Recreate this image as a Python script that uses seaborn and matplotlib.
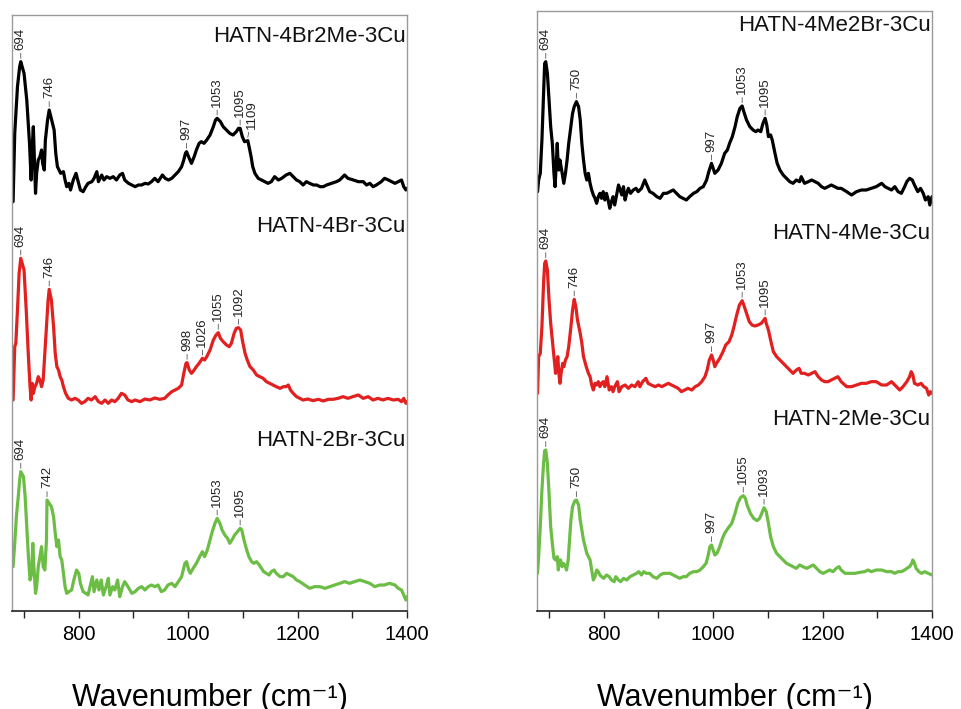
import numpy as np
import matplotlib
matplotlib.use("Agg")
import matplotlib.pyplot as plt
import seaborn as sns

# espectros: (numero de onda cm-1, intensidade u.a.)
hatn_4br2me = [(680, -55), (683, 150), (688, 290), (692, 350), (694, 365), (700, 330), (705, 250), (710, 120),
               (713, 10), (715, 110), (717, 170), (719, 70), (721, -30), (723, 30), (726, 70), (729, 80),
               (732, 100), (734, 60), (737, 40), (739, 130), (743, 190), (746, 220), (749, 200), (752, 180),
               (755, 160), (758, 90), (761, 50), (764, 40), (767, 30), (772, 35), (775, 10), (778, -10),
               (782, 0), (785, -20), (790, 10), (795, 30), (799, 5), (803, -20), (808, -25), (813, -10),
               (817, 0), (824, 5), (828, 15), (833, 35), (836, 5), (842, 25), (846, 10), (851, 20),
               (857, 15), (863, 20), (869, 10), (875, 25), (880, 30), (884, 10), (891, 0), (897, -5),
               (903, -10), (909, -5), (915, -5), (921, 0), (927, -2), (933, 5), (939, 15), (945, 5),
               (953, 25), (958, 15), (964, 10), (970, 15), (976, 25), (982, 35), (988, 50), (992, 70),
               (995, 90), (997, 95), (1002, 75), (1006, 60), (1011, 80), (1015, 100), (1020, 120), (1024, 125),
               (1029, 120), (1034, 130), (1040, 145), (1046, 170), (1050, 190), (1053, 195), (1059, 185), (1064, 170),
               (1070, 160), (1076, 150), (1082, 145), (1088, 155), (1092, 165), (1095, 165), (1099, 140), (1103, 125),
               (1109, 128), (1112, 105), (1115, 80), (1118, 50), (1122, 30), (1128, 15), (1134, 10), (1140, 5),
               (1146, 0), (1152, 5), (1158, 20), (1165, 10), (1171, 15), (1179, 25), (1186, 30), (1192, 20),
               (1198, 10), (1204, 5), (1210, -5), (1216, 5), (1222, 0), (1229, -5), (1235, -5), (1241, -10),
               (1247, -10), (1253, -5), (1262, 0), (1271, 5), (1277, 10), (1286, 25), (1292, 15), (1302, 10),
               (1311, 5), (1320, 5), (1326, -5), (1332, 0), (1338, -10), (1344, -5), (1353, 5), (1359, 15),
               (1366, 10), (1372, 5), (1378, 0), (1384, 5), (1390, 10), (1394, -10), (1398, -20), (1400, -15)]

hatn_4br = [(680, 0), (683, 160), (685, 170), (688, 270), (691, 380), (694, 425), (700, 390), (704, 270),
            (708, 130), (711, 40), (713, 0), (715, 50), (717, 20), (720, 40), (723, 50), (726, 70),
            (729, 60), (732, 40), (735, 60), (738, 140), (741, 220), (744, 300), (746, 332), (750, 300),
            (754, 220), (757, 140), (760, 100), (763, 90), (766, 70), (769, 60), (772, 40), (776, 20),
            (781, 5), (787, 0), (793, 5), (799, 0), (805, -10), (811, -5), (817, 5), (823, 0),
            (830, 10), (836, -5), (842, -10), (848, 0), (854, -10), (860, 0), (866, -5), (872, 5),
            (878, 20), (884, 15), (890, 0), (897, -5), (903, 0), (912, -5), (921, 3), (930, 0),
            (939, 6), (948, 2), (957, 5), (963, 15), (970, 25), (976, 30), (982, 35), (988, 45),
            (992, 80), (996, 110), (998, 112), (1002, 90), (1006, 80), (1011, 90), (1015, 100), (1020, 110),
            (1026, 125), (1030, 120), (1034, 130), (1040, 150), (1046, 180), (1051, 195), (1055, 202), (1059, 185),
            (1064, 175), (1070, 165), (1075, 160), (1079, 170), (1084, 200), (1088, 215), (1092, 217), (1096, 210),
            (1099, 180), (1104, 140), (1108, 120), (1113, 100), (1119, 90), (1125, 75), (1131, 70), (1137, 65),
            (1143, 55), (1149, 50), (1155, 45), (1161, 40), (1168, 35), (1174, 40), (1179, 40), (1183, 45),
            (1187, 30), (1192, 20), (1198, 10), (1204, 5), (1210, 0), (1219, 3), (1228, -2), (1238, 2),
            (1247, -3), (1256, 2), (1265, 2), (1274, 5), (1283, 10), (1292, 5), (1301, 10), (1311, 15),
            (1320, 5), (1329, 10), (1338, 0), (1347, 5), (1356, 0), (1365, 5), (1375, 0), (1384, 2),
            (1390, -5), (1394, 5), (1398, -10), (1400, -5)]

hatn_2br = [(680, 70), (683, 140), (686, 220), (690, 290), (692, 330), (694, 355), (699, 340), (702, 280),
            (705, 190), (708, 100), (711, 30), (714, 50), (716, 140), (718, 70), (721, -10), (723, 10),
            (726, 70), (729, 100), (732, 130), (735, 70), (738, 60), (741, 150), (742, 270), (746, 260),
            (750, 250), (754, 220), (757, 170), (760, 130), (763, 150), (766, 100), (769, 90), (772, 50),
            (775, 10), (778, -10), (782, -5), (787, 0), (791, 30), (796, 60), (800, 50), (803, 20),
            (808, -5), (813, -10), (817, -15), (822, 20), (825, 40), (828, -5), (833, 30), (837, 0),
            (841, 30), (845, -15), (850, 10), (854, 35), (857, -15), (862, 10), (866, 0), (871, 30),
            (875, -20), (880, 10), (884, 25), (890, 10), (897, -10), (903, -5), (909, 5), (915, 10),
            (921, 0), (927, 10), (933, 15), (939, 10), (945, 15), (951, -5), (957, 0), (963, 15),
            (970, 20), (976, 10), (982, 25), (988, 40), (994, 80), (997, 85), (1001, 60), (1004, 50),
            (1009, 65), (1015, 80), (1021, 100), (1026, 115), (1030, 100), (1035, 120), (1040, 150), (1044, 175),
            (1049, 200), (1053, 215), (1058, 200), (1062, 180), (1067, 165), (1072, 155), (1076, 140), (1080, 150),
            (1085, 165), (1090, 175), (1095, 185), (1098, 180), (1102, 150), (1107, 120), (1111, 100), (1116, 85),
            (1120, 80), (1125, 85), (1130, 75), (1134, 65), (1138, 55), (1143, 50), (1148, 45), (1152, 55),
            (1157, 60), (1161, 50), (1168, 40), (1174, 40), (1180, 50), (1186, 45), (1192, 40), (1198, 30),
            (1204, 25), (1213, 15), (1222, 5), (1231, 10), (1241, 10), (1250, 5), (1259, 10), (1268, 15),
            (1277, 20), (1286, 25), (1295, 20), (1304, 25), (1314, 30), (1323, 25), (1332, 20), (1341, 10),
            (1350, 15), (1359, 15), (1368, 20), (1378, 15), (1384, 5), (1390, 0), (1394, -15), (1398, -30),
            (1400, -20)]

hatn_4me2br = [(679, 5), (681, 40), (684, 60), (687, 160), (690, 300), (692, 390), (694, 395), (697, 360),
               (700, 280), (703, 200), (706, 150), (709, 60), (711, 20), (713, 80), (715, 150), (716, 110),
               (718, 70), (720, 100), (722, 80), (724, 60), (727, 30), (730, 60), (733, 100), (736, 150),
               (740, 200), (743, 240), (746, 260), (750, 275), (754, 260), (757, 220), (760, 150), (763, 100),
               (766, 60), (769, 40), (772, 60), (775, 30), (778, 10), (781, -5), (784, -15), (787, -30),
               (790, -10), (793, 0), (796, -15), (799, 5), (802, -20), (805, 0), (808, -20), (811, -45),
               (814, -25), (817, -10), (820, -35), (824, 0), (827, 25), (830, 10), (833, -5), (836, 20),
               (839, -20), (842, 0), (845, 15), (849, 0), (854, 10), (859, 15), (863, 5), (869, 15),
               (875, 40), (880, 20), (884, 5), (890, 0), (897, -10), (903, -15), (909, 0), (915, 0),
               (921, 5), (927, 10), (933, 0), (939, -10), (945, -15), (951, -20), (957, -10), (964, 0),
               (970, 5), (976, 15), (982, 20), (988, 40), (992, 65), (997, 90), (1000, 75), (1003, 60),
               (1009, 70), (1015, 90), (1021, 120), (1026, 130), (1030, 150), (1035, 170), (1040, 200), (1044, 230),
               (1049, 255), (1053, 262), (1056, 245), (1061, 220), (1067, 200), (1073, 190), (1078, 185), (1082, 190),
               (1087, 185), (1091, 210), (1095, 225), (1098, 205), (1101, 170), (1105, 175), (1108, 160), (1113, 120),
               (1117, 90), (1122, 70), (1128, 55), (1134, 45), (1140, 35), (1146, 30), (1152, 40), (1158, 35),
               (1161, 50), (1167, 30), (1174, 35), (1180, 40), (1186, 35), (1192, 30), (1198, 20), (1204, 15),
               (1210, 20), (1216, 25), (1222, 20), (1228, 15), (1234, 15), (1244, 5), (1253, -5), (1262, 5),
               (1271, 10), (1280, 10), (1289, 15), (1298, 20), (1308, 30), (1314, 20), (1320, 15), (1326, 10),
               (1332, 20), (1338, 5), (1344, 0), (1350, 20), (1354, 35), (1359, 45), (1364, 40), (1368, 25),
               (1374, 5), (1379, 15), (1384, 0), (1388, -20), (1393, -10), (1396, -35), (1400, -10)]

hatn_4me = [(679, -15), (681, 95), (684, 105), (687, 185), (690, 315), (692, 375), (694, 382), (697, 355),
            (700, 265), (703, 195), (706, 145), (709, 95), (712, 45), (714, 65), (716, 95), (718, 45),
            (720, 15), (722, 45), (725, 75), (727, 65), (730, 85), (733, 95), (736, 125), (740, 185),
            (743, 235), (746, 267), (749, 245), (752, 205), (757, 165), (760, 135), (763, 95), (768, 65),
            (772, 45), (775, 35), (778, 10), (781, -5), (784, 15), (787, 10), (790, 20), (793, 5),
            (796, 15), (799, 20), (802, 5), (806, 35), (810, -5), (814, 5), (817, -10), (820, 5),
            (825, 20), (828, -10), (833, 5), (839, 10), (845, 0), (851, 10), (857, 5), (863, 20),
            (866, 5), (871, 20), (877, 30), (881, 15), (887, 10), (894, 5), (900, 10), (906, 5),
            (912, 10), (918, 15), (924, 10), (930, 5), (936, 0), (942, -10), (948, -5), (954, 0),
            (961, -5), (967, 5), (973, 10), (979, 20), (985, 35), (989, 55), (993, 85), (997, 100),
            (1000, 85), (1003, 65), (1006, 75), (1012, 90), (1018, 110), (1023, 130), (1029, 140), (1034, 160),
            (1038, 185), (1043, 220), (1048, 250), (1053, 263), (1056, 250), (1061, 225), (1066, 200), (1071, 190),
            (1076, 187), (1082, 190), (1088, 195), (1095, 210), (1097, 195), (1101, 175), (1105, 145), (1110, 110),
            (1116, 95), (1122, 85), (1128, 75), (1134, 65), (1140, 55), (1146, 45), (1152, 55), (1157, 60),
            (1161, 45), (1167, 45), (1174, 40), (1180, 45), (1186, 50), (1192, 35), (1198, 25), (1204, 20),
            (1210, 20), (1216, 25), (1222, 30), (1228, 35), (1234, 20), (1244, 5), (1253, 5), (1262, 10),
            (1271, 15), (1280, 15), (1289, 20), (1298, 20), (1308, 10), (1317, 10), (1326, 20), (1335, 5),
            (1341, -5), (1347, 5), (1354, 20), (1359, 35), (1362, 50), (1365, 40), (1368, 15), (1374, 10),
            (1380, 15), (1385, 5), (1390, 0), (1394, -20), (1397, -10), (1400, -15)]

hatn_2me = [(679, 5), (681, 55), (684, 145), (687, 255), (690, 335), (692, 373), (694, 375), (697, 335),
            (700, 245), (703, 145), (706, 95), (709, 50), (712, 45), (715, 55), (717, 15), (719, 45),
            (721, 45), (724, 25), (726, 35), (729, 30), (732, 15), (735, 45), (737, 95), (740, 165),
            (743, 205), (747, 222), (750, 225), (754, 210), (757, 165), (760, 135), (763, 105), (766, 85),
            (769, 65), (772, 55), (775, 45), (778, 15), (781, -15), (784, -5), (787, 15), (790, 10),
            (793, 0), (796, -5), (800, -10), (805, 0), (810, -5), (814, -15), (819, -20), (822, -5),
            (827, -15), (831, -20), (836, -10), (842, -15), (848, -5), (854, 0), (860, 5), (864, 10),
            (869, 0), (873, 10), (878, 5), (884, 5), (890, -5), (897, -10), (903, 0), (909, 5),
            (915, 5), (921, 5), (927, 0), (933, -5), (939, -10), (945, -5), (951, -5), (957, 5),
            (964, 10), (970, 10), (976, 15), (982, 25), (987, 35), (991, 60), (994, 85), (997, 90),
            (1000, 75), (1003, 60), (1007, 65), (1012, 85), (1017, 110), (1021, 125), (1027, 140), (1034, 155),
            (1040, 185), (1045, 215), (1050, 232), (1055, 238), (1059, 230), (1062, 210), (1068, 185), (1074, 170),
            (1080, 163), (1085, 170), (1090, 190), (1093, 202), (1097, 190), (1101, 155), (1105, 115), (1110, 85),
            (1116, 65), (1122, 55), (1128, 45), (1134, 35), (1140, 30), (1146, 25), (1152, 20), (1158, 30),
            (1164, 25), (1171, 20), (1177, 25), (1183, 30), (1189, 20), (1195, 10), (1201, 5), (1207, 10),
            (1213, 15), (1219, 10), (1225, 20), (1230, 25), (1234, 15), (1241, 5), (1250, 5), (1259, 5),
            (1268, 8), (1277, 10), (1283, 15), (1289, 10), (1298, 15), (1308, 15), (1317, 10), (1326, 10),
            (1332, 5), (1338, 10), (1344, 10), (1350, 15), (1354, 20), (1359, 25), (1363, 35), (1365, 45),
            (1368, 35), (1371, 20), (1376, 10), (1381, 5), (1387, 10), (1393, 5), (1400, 0)]

# nomes das amostras e picos marcados
nomes_esq = ["HATN-4Br2Me-3Cu", "HATN-4Br-3Cu", "HATN-2Br-3Cu"]
nomes_dir = ["HATN-4Me2Br-3Cu", "HATN-4Me-3Cu", "HATN-2Me-3Cu"]
picos_esq = [[694, 746, 997, 1053, 1095, 1109], [694, 746, 998, 1026, 1055, 1092], [694, 742, 1053, 1095]]
picos_dir = [[694, 750, 997, 1053, 1095], [694, 746, 997, 1053, 1095], [694, 750, 997, 1055, 1093]]

cores = ["#000000", "#e2201f", "#6cbd45"]

sns.set_style("white")
plt.rcParams["font.family"] = ["Liberation Sans", "DejaVu Sans"]
plt.rcParams["text.color"] = "black"
plt.rcParams["axes.labelcolor"] = "black"
plt.rcParams["xtick.color"] = "black"

fig = plt.figure(figsize=(9.61, 7.09), dpi=100)
ax_esq = fig.add_axes([12 / 961, 98 / 709, 395 / 961, 596 / 709])
ax_dir = fig.add_axes([537 / 961, 98 / 709, 395 / 961, 600 / 709])


def painel(ax, espectros, nomes, picos, deslocs, ypos_nome, ytop):
    for esp, nome, pk, cor, d, yn in zip(espectros, nomes, picos, cores, deslocs, ypos_nome):
        wn, inten = np.array(esp, dtype=float).T
        y = inten + d
        sns.lineplot(x=wn, y=y, ax=ax, color=cor, lw=2.3, estimator=None, sort=False)
        ax.text(1397, yn, nome, ha="right", va="baseline", fontsize=16, color="#111111")
        for i, p in enumerate(pk):
            yp = np.interp(p, wn, y)
            # rotulo 1109 fica encostado no 1095, desloca um pouco
            dx = 3 if (i > 0 and p - pk[i - 1] < 20) else 0
            ax.annotate(str(p), xy=(p, yp + 10), xytext=(dx, 6), textcoords="offset points",
                        rotation=90, ha="center", va="bottom", fontsize=9.5, color="#222222",
                        arrowprops=dict(arrowstyle="-", lw=0.6, color="#555555", shrinkA=0, shrinkB=0))
    ax.set_xlim(678, 1400)
    ax.set_ylim(0, ytop)
    ax.set_xticks([800, 1000, 1200, 1400])
    ax.set_xticks([700, 900, 1100, 1300], minor=True)
    ax.set_yticks([])
    ax.tick_params(axis="x", which="both", direction="out", length=5, width=1,
                   bottom=True, labelsize=14.5, pad=5, color="#222222")
    for s in ["left", "top", "right"]:
        ax.spines[s].set_color("#9a9a9a")
        ax.spines[s].set_linewidth(1)
    ax.spines["bottom"].set_color("#222222")
    ax.spines["bottom"].set_linewidth(1.2)
    ax.set_ylabel("")
    ax.set_xlabel("Wavenumber (cm\u207b\u00b9)", fontsize=22, labelpad=28)


painel(ax_esq, [hatn_4br2me, hatn_4br, hatn_2br], nomes_esq, picos_esq,
       [1283, 633, 63], [1707, 1137, 495], 1788)
painel(ax_dir, [hatn_4me2br, hatn_4me, hatn_2me], nomes_dir, picos_dir,
       [1253, 668, 108], [1740, 1116, 558], 1800)

fig.savefig("out.png", dpi=100)
